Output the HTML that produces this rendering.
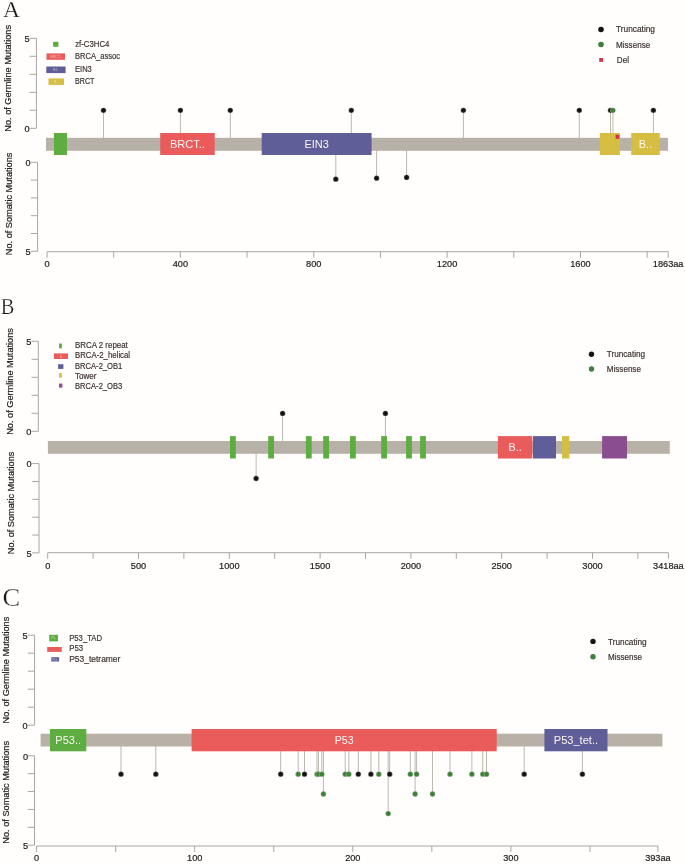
<!DOCTYPE html>
<html><head><meta charset="utf-8"><title>Lollipop plots</title>
<style>
html,body{margin:0;padding:0;background:#fffefd;}
body{width:685px;height:864px;overflow:hidden;font-family:"Liberation Sans",sans-serif;}
svg{display:block;} text{-webkit-font-smoothing:antialiased;}
</style></head><body>
<svg width="685" height="864" viewBox="0 0 685 864" style="will-change:transform">
<rect x="0" y="0" width="685" height="864" fill="#fffefd"/>
<text x="3.0" y="16.8" font-family="Liberation Serif" font-size="23.5" fill="#1a1a1a" text-anchor="start" stroke="#fffefd" stroke-width="0.25">A</text>
<text x="0" y="0" transform="translate(11.1,78.35) rotate(-90)" font-family="Liberation Sans" font-size="9.2" fill="#24201e" stroke="#24201e" stroke-width="0.2" text-anchor="middle">No. of Germline Mutations</text>
<text x="0" y="0" transform="translate(12.0,203.9) rotate(-90)" font-family="Liberation Sans" font-size="9.2" fill="#24201e" stroke="#24201e" stroke-width="0.2" text-anchor="middle">No. of Somatic Mutations</text>
<line x1="36.4" y1="38.3" x2="36.4" y2="128.3" stroke="#aaa5a0" stroke-width="1"/>
<line x1="29.6" y1="38.3" x2="36.4" y2="38.3" stroke="#aaa5a0" stroke-width="1"/>
<line x1="29.6" y1="56.3" x2="36.4" y2="56.3" stroke="#aaa5a0" stroke-width="1"/>
<line x1="29.6" y1="74.3" x2="36.4" y2="74.3" stroke="#aaa5a0" stroke-width="1"/>
<line x1="29.6" y1="92.3" x2="36.4" y2="92.3" stroke="#aaa5a0" stroke-width="1"/>
<line x1="29.6" y1="110.3" x2="36.4" y2="110.3" stroke="#aaa5a0" stroke-width="1"/>
<line x1="29.6" y1="128.3" x2="36.4" y2="128.3" stroke="#aaa5a0" stroke-width="1"/>
<text x="29.6" y="42.099999999999994" font-family="Liberation Sans" font-size="9.2" fill="#24201e" text-anchor="end" stroke="#24201e" stroke-width="0.2">5</text>
<text x="29.6" y="132.10000000000002" font-family="Liberation Sans" font-size="9.2" fill="#24201e" text-anchor="end" stroke="#24201e" stroke-width="0.2">0</text>
<line x1="37.6" y1="162.3" x2="37.6" y2="251.3" stroke="#aaa5a0" stroke-width="1"/>
<line x1="30.8" y1="162.3" x2="37.6" y2="162.3" stroke="#aaa5a0" stroke-width="1"/>
<line x1="30.8" y1="180.1" x2="37.6" y2="180.1" stroke="#aaa5a0" stroke-width="1"/>
<line x1="30.8" y1="197.9" x2="37.6" y2="197.9" stroke="#aaa5a0" stroke-width="1"/>
<line x1="30.8" y1="215.7" x2="37.6" y2="215.7" stroke="#aaa5a0" stroke-width="1"/>
<line x1="30.8" y1="233.5" x2="37.6" y2="233.5" stroke="#aaa5a0" stroke-width="1"/>
<line x1="30.8" y1="251.3" x2="37.6" y2="251.3" stroke="#aaa5a0" stroke-width="1"/>
<text x="30.7" y="166.10000000000002" font-family="Liberation Sans" font-size="9.2" fill="#24201e" text-anchor="end" stroke="#24201e" stroke-width="0.2">0</text>
<text x="30.7" y="255.10000000000002" font-family="Liberation Sans" font-size="9.2" fill="#24201e" text-anchor="end" stroke="#24201e" stroke-width="0.2">5</text>
<line x1="47.0" y1="251.7" x2="668.16" y2="251.7" stroke="#aaa5a0" stroke-width="1"/>
<line x1="47.0" y1="251.7" x2="47.0" y2="257.7" stroke="#aaa5a0" stroke-width="1"/>
<line x1="113.68" y1="251.7" x2="113.68" y2="257.7" stroke="#aaa5a0" stroke-width="1"/>
<line x1="180.37" y1="251.7" x2="180.37" y2="257.7" stroke="#aaa5a0" stroke-width="1"/>
<line x1="247.05" y1="251.7" x2="247.05" y2="257.7" stroke="#aaa5a0" stroke-width="1"/>
<line x1="313.74" y1="251.7" x2="313.74" y2="257.7" stroke="#aaa5a0" stroke-width="1"/>
<line x1="380.42" y1="251.7" x2="380.42" y2="257.7" stroke="#aaa5a0" stroke-width="1"/>
<line x1="447.1" y1="251.7" x2="447.1" y2="257.7" stroke="#aaa5a0" stroke-width="1"/>
<line x1="513.79" y1="251.7" x2="513.79" y2="257.7" stroke="#aaa5a0" stroke-width="1"/>
<line x1="580.47" y1="251.7" x2="580.47" y2="257.7" stroke="#aaa5a0" stroke-width="1"/>
<line x1="647.16" y1="251.7" x2="647.16" y2="257.7" stroke="#aaa5a0" stroke-width="1"/>
<line x1="668.16" y1="251.7" x2="668.16" y2="257.7" stroke="#aaa5a0" stroke-width="1"/>
<text x="47.00" y="267.4" font-family="Liberation Sans" font-size="9.2" fill="#24201e" text-anchor="middle" stroke="#24201e" stroke-width="0.2">0</text>
<text x="180.37" y="267.4" font-family="Liberation Sans" font-size="9.2" fill="#24201e" text-anchor="middle" stroke="#24201e" stroke-width="0.2">400</text>
<text x="313.74" y="267.4" font-family="Liberation Sans" font-size="9.2" fill="#24201e" text-anchor="middle" stroke="#24201e" stroke-width="0.2">800</text>
<text x="447.10" y="267.4" font-family="Liberation Sans" font-size="9.2" fill="#24201e" text-anchor="middle" stroke="#24201e" stroke-width="0.2">1200</text>
<text x="580.47" y="267.4" font-family="Liberation Sans" font-size="9.2" fill="#24201e" text-anchor="middle" stroke="#24201e" stroke-width="0.2">1600</text>
<text x="668.16" y="267.4" font-family="Liberation Sans" font-size="9.2" fill="#24201e" text-anchor="middle" stroke="#24201e" stroke-width="0.2">1863aa</text>
<line x1="103.5" y1="144.0" x2="103.5" y2="110.35" stroke="#bdb8b0" stroke-width="1"/>
<line x1="180.4" y1="144.0" x2="180.4" y2="110.35" stroke="#bdb8b0" stroke-width="1"/>
<line x1="230.3" y1="144.0" x2="230.3" y2="110.35" stroke="#bdb8b0" stroke-width="1"/>
<line x1="351.3" y1="144.0" x2="351.3" y2="110.35" stroke="#bdb8b0" stroke-width="1"/>
<line x1="463.4" y1="144.0" x2="463.4" y2="110.35" stroke="#bdb8b0" stroke-width="1"/>
<line x1="579.3" y1="144.0" x2="579.3" y2="110.35" stroke="#bdb8b0" stroke-width="1"/>
<line x1="610.5" y1="144.0" x2="610.5" y2="110.35" stroke="#bdb8b0" stroke-width="1"/>
<line x1="612.9" y1="144.0" x2="612.9" y2="110.35" stroke="#bdb8b0" stroke-width="1"/>
<line x1="653.4" y1="144.0" x2="653.4" y2="110.35" stroke="#bdb8b0" stroke-width="1"/>
<line x1="335.8" y1="144.0" x2="335.8" y2="179.2" stroke="#bdb8b0" stroke-width="1"/>
<line x1="376.6" y1="144.0" x2="376.6" y2="178.2" stroke="#bdb8b0" stroke-width="1"/>
<line x1="406.6" y1="144.0" x2="406.6" y2="177.4" stroke="#bdb8b0" stroke-width="1"/>
<rect x="46.0" y="137.8" width="622.00" height="13.00" fill="#b8b1a7"/>
<rect x="53.9" y="133.0" width="13.10" height="22.00" fill="#5dad40"/>
<rect x="160.2" y="133.0" width="54.50" height="22.00" fill="#ea5b5b"/>
<text x="187.45" y="147.96" font-family="Liberation Sans" font-size="11" fill="#fbf4f2" text-anchor="middle" textLength="35" lengthAdjust="spacingAndGlyphs">BRCT..</text>
<rect x="261.7" y="133.0" width="109.90" height="22.00" fill="#605e98"/>
<text x="316.65" y="147.96" font-family="Liberation Sans" font-size="11" fill="#fbf4f2" text-anchor="middle" textLength="24.3" lengthAdjust="spacingAndGlyphs">EIN3</text>
<rect x="599.8" y="133.0" width="20.10" height="22.00" fill="#d6be42"/>
<rect x="631.2" y="133.0" width="28.60" height="22.00" fill="#d6be42"/>
<text x="645.50" y="147.96" font-family="Liberation Sans" font-size="11" fill="#fbf4f2" text-anchor="middle" textLength="13.4" lengthAdjust="spacingAndGlyphs">B..</text>
<rect x="615.6" y="134.8" width="3.80" height="4.00" fill="#d9304a"/>
<circle cx="103.5" cy="110.35" r="2.65" fill="#161413" stroke="#e8e4dc" stroke-opacity="0.7" stroke-width="0.45"/>
<circle cx="180.4" cy="110.35" r="2.65" fill="#161413" stroke="#e8e4dc" stroke-opacity="0.7" stroke-width="0.45"/>
<circle cx="230.3" cy="110.35" r="2.65" fill="#161413" stroke="#e8e4dc" stroke-opacity="0.7" stroke-width="0.45"/>
<circle cx="351.3" cy="110.35" r="2.65" fill="#161413" stroke="#e8e4dc" stroke-opacity="0.7" stroke-width="0.45"/>
<circle cx="463.4" cy="110.35" r="2.65" fill="#161413" stroke="#e8e4dc" stroke-opacity="0.7" stroke-width="0.45"/>
<circle cx="579.3" cy="110.35" r="2.65" fill="#161413" stroke="#e8e4dc" stroke-opacity="0.7" stroke-width="0.45"/>
<circle cx="610.5" cy="110.35" r="2.65" fill="#161413" stroke="#e8e4dc" stroke-opacity="0.7" stroke-width="0.45"/>
<circle cx="612.9" cy="110.35" r="2.65" fill="#3f7f3a" stroke="#e8e4dc" stroke-opacity="0.7" stroke-width="0.45"/>
<circle cx="653.4" cy="110.35" r="2.65" fill="#161413" stroke="#e8e4dc" stroke-opacity="0.7" stroke-width="0.45"/>
<circle cx="335.8" cy="179.2" r="2.65" fill="#161413" stroke="#e8e4dc" stroke-opacity="0.7" stroke-width="0.45"/>
<circle cx="376.6" cy="178.2" r="2.65" fill="#161413" stroke="#e8e4dc" stroke-opacity="0.7" stroke-width="0.45"/>
<circle cx="406.6" cy="177.4" r="2.65" fill="#161413" stroke="#e8e4dc" stroke-opacity="0.7" stroke-width="0.45"/>
<rect x="53.1" y="41.8" width="5.30" height="5.00" fill="#5dad40"/>
<rect x="46.5" y="53.4" width="18.50" height="6.40" fill="#ea5b5b"/>
<rect x="46.3" y="66.5" width="19.30" height="6.60" fill="#605e98"/>
<rect x="48.5" y="78.4" width="15.50" height="6.50" fill="#d6be42"/>
<text x="56.0" y="58.0" font-family="Liberation Sans" font-size="3.6" fill="#f6dcdc" text-anchor="middle" opacity="0.75">BRCT..</text>
<text x="56.0" y="71.0" font-family="Liberation Sans" font-size="3.6" fill="#f6dcdc" text-anchor="middle" opacity="0.75">EI..</text>
<text x="56.4" y="83.0" font-family="Liberation Sans" font-size="3.6" fill="#f6dcdc" text-anchor="middle" opacity="0.75">B...</text>
<text x="75.2" y="47.3" font-family="Liberation Sans" font-size="8.6" fill="#3b322e" text-anchor="start" textLength="34.2" lengthAdjust="spacingAndGlyphs" stroke="#3b322e" stroke-width="0.18">zf-C3HC4</text>
<text x="75.0" y="59.4" font-family="Liberation Sans" font-size="8.6" fill="#3b322e" text-anchor="start" textLength="45.0" lengthAdjust="spacingAndGlyphs" stroke="#3b322e" stroke-width="0.18">BRCA_assoc</text>
<text x="75.0" y="72.0" font-family="Liberation Sans" font-size="8.6" fill="#3b322e" text-anchor="start" textLength="16.8" lengthAdjust="spacingAndGlyphs" stroke="#3b322e" stroke-width="0.18">EIN3</text>
<text x="75.0" y="84.4" font-family="Liberation Sans" font-size="8.6" fill="#3b322e" text-anchor="start" textLength="19.5" lengthAdjust="spacingAndGlyphs" stroke="#3b322e" stroke-width="0.18">BRCT</text>
<circle cx="601" cy="29.5" r="2.8" fill="#161413"/>
<circle cx="601" cy="44.5" r="2.8" fill="#3f7f3a"/>
<rect x="599.2" y="58.0" width="3.80" height="3.80" fill="#d9304a"/>
<text x="616.0" y="32.4" font-family="Liberation Sans" font-size="8.6" fill="#3b322e" text-anchor="start" textLength="39.0" lengthAdjust="spacingAndGlyphs" stroke="#3b322e" stroke-width="0.18">Truncating</text>
<text x="616.0" y="48.0" font-family="Liberation Sans" font-size="8.6" fill="#3b322e" text-anchor="start" textLength="34.2" lengthAdjust="spacingAndGlyphs" stroke="#3b322e" stroke-width="0.18">Missense</text>
<text x="616.8" y="63.2" font-family="Liberation Sans" font-size="8.6" fill="#3b322e" text-anchor="start" textLength="12.2" lengthAdjust="spacingAndGlyphs" stroke="#3b322e" stroke-width="0.18">Del</text>
<text x="0.7" y="314.3" font-family="Liberation Serif" font-size="23.5" fill="#1a1a1a" text-anchor="start" textLength="13.6" lengthAdjust="spacingAndGlyphs" stroke="#fffefd" stroke-width="0.25">B</text>
<text x="0" y="0" transform="translate(12.8,381.45) rotate(-90)" font-family="Liberation Sans" font-size="9.2" fill="#24201e" stroke="#24201e" stroke-width="0.2" text-anchor="middle">No. of Germline Mutations</text>
<text x="0" y="0" transform="translate(13.9,502.9) rotate(-90)" font-family="Liberation Sans" font-size="9.2" fill="#24201e" stroke="#24201e" stroke-width="0.2" text-anchor="middle">No. of Somatic Mutations</text>
<line x1="38.3" y1="341.3" x2="38.3" y2="431.3" stroke="#aaa5a0" stroke-width="1"/>
<line x1="31.5" y1="341.3" x2="38.3" y2="341.3" stroke="#aaa5a0" stroke-width="1"/>
<line x1="31.5" y1="359.3" x2="38.3" y2="359.3" stroke="#aaa5a0" stroke-width="1"/>
<line x1="31.5" y1="377.3" x2="38.3" y2="377.3" stroke="#aaa5a0" stroke-width="1"/>
<line x1="31.5" y1="395.3" x2="38.3" y2="395.3" stroke="#aaa5a0" stroke-width="1"/>
<line x1="31.5" y1="413.3" x2="38.3" y2="413.3" stroke="#aaa5a0" stroke-width="1"/>
<line x1="31.5" y1="431.3" x2="38.3" y2="431.3" stroke="#aaa5a0" stroke-width="1"/>
<text x="31.4" y="345.1" font-family="Liberation Sans" font-size="9.2" fill="#24201e" text-anchor="end" stroke="#24201e" stroke-width="0.2">5</text>
<text x="31.4" y="435.1" font-family="Liberation Sans" font-size="9.2" fill="#24201e" text-anchor="end" stroke="#24201e" stroke-width="0.2">0</text>
<line x1="39.0" y1="463.6" x2="39.0" y2="552.9" stroke="#aaa5a0" stroke-width="1"/>
<line x1="32.2" y1="463.6" x2="39.0" y2="463.6" stroke="#aaa5a0" stroke-width="1"/>
<line x1="32.2" y1="481.46" x2="39.0" y2="481.46" stroke="#aaa5a0" stroke-width="1"/>
<line x1="32.2" y1="499.32" x2="39.0" y2="499.32" stroke="#aaa5a0" stroke-width="1"/>
<line x1="32.2" y1="517.18" x2="39.0" y2="517.18" stroke="#aaa5a0" stroke-width="1"/>
<line x1="32.2" y1="535.04" x2="39.0" y2="535.04" stroke="#aaa5a0" stroke-width="1"/>
<line x1="32.2" y1="552.9" x2="39.0" y2="552.9" stroke="#aaa5a0" stroke-width="1"/>
<text x="31.6" y="467.40000000000003" font-family="Liberation Sans" font-size="9.2" fill="#24201e" text-anchor="end" stroke="#24201e" stroke-width="0.2">0</text>
<text x="31.6" y="556.6999999999999" font-family="Liberation Sans" font-size="9.2" fill="#24201e" text-anchor="end" stroke="#24201e" stroke-width="0.2">5</text>
<line x1="47.7" y1="552.7" x2="668.41" y2="552.7" stroke="#aaa5a0" stroke-width="1"/>
<line x1="47.7" y1="552.7" x2="47.7" y2="558.7" stroke="#aaa5a0" stroke-width="1"/>
<line x1="93.1" y1="552.7" x2="93.1" y2="558.7" stroke="#aaa5a0" stroke-width="1"/>
<line x1="138.5" y1="552.7" x2="138.5" y2="558.7" stroke="#aaa5a0" stroke-width="1"/>
<line x1="183.9" y1="552.7" x2="183.9" y2="558.7" stroke="#aaa5a0" stroke-width="1"/>
<line x1="229.3" y1="552.7" x2="229.3" y2="558.7" stroke="#aaa5a0" stroke-width="1"/>
<line x1="274.7" y1="552.7" x2="274.7" y2="558.7" stroke="#aaa5a0" stroke-width="1"/>
<line x1="320.1" y1="552.7" x2="320.1" y2="558.7" stroke="#aaa5a0" stroke-width="1"/>
<line x1="365.5" y1="552.7" x2="365.5" y2="558.7" stroke="#aaa5a0" stroke-width="1"/>
<line x1="410.9" y1="552.7" x2="410.9" y2="558.7" stroke="#aaa5a0" stroke-width="1"/>
<line x1="456.3" y1="552.7" x2="456.3" y2="558.7" stroke="#aaa5a0" stroke-width="1"/>
<line x1="501.7" y1="552.7" x2="501.7" y2="558.7" stroke="#aaa5a0" stroke-width="1"/>
<line x1="547.1" y1="552.7" x2="547.1" y2="558.7" stroke="#aaa5a0" stroke-width="1"/>
<line x1="592.5" y1="552.7" x2="592.5" y2="558.7" stroke="#aaa5a0" stroke-width="1"/>
<line x1="637.9" y1="552.7" x2="637.9" y2="558.7" stroke="#aaa5a0" stroke-width="1"/>
<line x1="668.41" y1="552.7" x2="668.41" y2="558.7" stroke="#aaa5a0" stroke-width="1"/>
<text x="47.70" y="568.5" font-family="Liberation Sans" font-size="9.2" fill="#24201e" text-anchor="middle" stroke="#24201e" stroke-width="0.2">0</text>
<text x="138.50" y="568.5" font-family="Liberation Sans" font-size="9.2" fill="#24201e" text-anchor="middle" stroke="#24201e" stroke-width="0.2">500</text>
<text x="229.30" y="568.5" font-family="Liberation Sans" font-size="9.2" fill="#24201e" text-anchor="middle" stroke="#24201e" stroke-width="0.2">1000</text>
<text x="320.10" y="568.5" font-family="Liberation Sans" font-size="9.2" fill="#24201e" text-anchor="middle" stroke="#24201e" stroke-width="0.2">1500</text>
<text x="410.90" y="568.5" font-family="Liberation Sans" font-size="9.2" fill="#24201e" text-anchor="middle" stroke="#24201e" stroke-width="0.2">2000</text>
<text x="501.70" y="568.5" font-family="Liberation Sans" font-size="9.2" fill="#24201e" text-anchor="middle" stroke="#24201e" stroke-width="0.2">2500</text>
<text x="592.50" y="568.5" font-family="Liberation Sans" font-size="9.2" fill="#24201e" text-anchor="middle" stroke="#24201e" stroke-width="0.2">3000</text>
<text x="668.41" y="568.5" font-family="Liberation Sans" font-size="9.2" fill="#24201e" text-anchor="middle" stroke="#24201e" stroke-width="0.2">3418aa</text>
<line x1="282.6" y1="447.0" x2="282.6" y2="413.4" stroke="#bdb8b0" stroke-width="1"/>
<line x1="385.4" y1="447.0" x2="385.4" y2="413.4" stroke="#bdb8b0" stroke-width="1"/>
<line x1="256.1" y1="447.0" x2="256.1" y2="478.5" stroke="#bdb8b0" stroke-width="1"/>
<rect x="47.9" y="441.0" width="621.90" height="12.80" fill="#b8b1a7"/>
<rect x="230.0" y="436.1" width="5.80" height="22.40" fill="#5dad40"/>
<rect x="268.2" y="436.1" width="5.80" height="22.40" fill="#5dad40"/>
<rect x="305.9" y="436.1" width="5.80" height="22.40" fill="#5dad40"/>
<rect x="323.2" y="436.1" width="5.80" height="22.40" fill="#5dad40"/>
<rect x="350.0" y="436.1" width="5.80" height="22.40" fill="#5dad40"/>
<rect x="381.2" y="436.1" width="5.80" height="22.40" fill="#5dad40"/>
<rect x="406.1" y="436.1" width="5.80" height="22.40" fill="#5dad40"/>
<rect x="420.1" y="436.1" width="5.80" height="22.40" fill="#5dad40"/>
<rect x="497.9" y="436.1" width="34.40" height="22.40" fill="#ea5b5b"/>
<text x="515.10" y="451.26" font-family="Liberation Sans" font-size="11" fill="#fbf4f2" text-anchor="middle" textLength="13.1" lengthAdjust="spacingAndGlyphs">B..</text>
<rect x="533.0" y="436.1" width="23.00" height="22.40" fill="#605e98"/>
<rect x="562.0" y="436.1" width="7.30" height="22.40" fill="#d6be42"/>
<rect x="602.1" y="436.1" width="24.90" height="22.40" fill="#8a4d8e"/>
<circle cx="282.6" cy="413.4" r="2.65" fill="#161413" stroke="#e8e4dc" stroke-opacity="0.7" stroke-width="0.45"/>
<circle cx="385.4" cy="413.4" r="2.65" fill="#161413" stroke="#e8e4dc" stroke-opacity="0.7" stroke-width="0.45"/>
<circle cx="256.1" cy="478.5" r="2.65" fill="#161413" stroke="#e8e4dc" stroke-opacity="0.7" stroke-width="0.45"/>
<rect x="59.1" y="343.5" width="2.80" height="4.90" fill="#5dad40"/>
<rect x="53.9" y="353.4" width="14.10" height="5.60" fill="#ea5b5b"/>
<rect x="58.1" y="364.2" width="5.30" height="4.70" fill="#605e98"/>
<rect x="59.1" y="373.1" width="2.80" height="4.60" fill="#d6be42"/>
<rect x="59.1" y="383.6" width="3.30" height="4.00" fill="#8a4d8e"/>
<text x="60.9" y="357.6" font-family="Liberation Sans" font-size="3.2" fill="#f6dcdc" text-anchor="middle" opacity="0.7">B</text>
<text x="75.0" y="347.7" font-family="Liberation Sans" font-size="8.6" fill="#3b322e" text-anchor="start" textLength="52.8" lengthAdjust="spacingAndGlyphs" stroke="#3b322e" stroke-width="0.18">BRCA 2 repeat</text>
<text x="75.0" y="358.3" font-family="Liberation Sans" font-size="8.6" fill="#3b322e" text-anchor="start" textLength="55.1" lengthAdjust="spacingAndGlyphs" stroke="#3b322e" stroke-width="0.18">BRCA-2_helical</text>
<text x="75.0" y="368.8" font-family="Liberation Sans" font-size="8.6" fill="#3b322e" text-anchor="start" textLength="47.3" lengthAdjust="spacingAndGlyphs" stroke="#3b322e" stroke-width="0.18">BRCA-2_OB1</text>
<text x="75.0" y="378.8" font-family="Liberation Sans" font-size="8.6" fill="#3b322e" text-anchor="start" textLength="21.5" lengthAdjust="spacingAndGlyphs" stroke="#3b322e" stroke-width="0.18">Tower</text>
<text x="75.0" y="388.9" font-family="Liberation Sans" font-size="8.6" fill="#3b322e" text-anchor="start" textLength="47.3" lengthAdjust="spacingAndGlyphs" stroke="#3b322e" stroke-width="0.18">BRCA-2_OB3</text>
<circle cx="591.5" cy="354.2" r="2.7" fill="#161413"/>
<circle cx="591.5" cy="369.0" r="2.7" fill="#3f7f3a"/>
<text x="606.8" y="356.9" font-family="Liberation Sans" font-size="8.6" fill="#3b322e" text-anchor="start" textLength="38.3" lengthAdjust="spacingAndGlyphs" stroke="#3b322e" stroke-width="0.18">Truncating</text>
<text x="606.8" y="372.2" font-family="Liberation Sans" font-size="8.6" fill="#3b322e" text-anchor="start" textLength="34.1" lengthAdjust="spacingAndGlyphs" stroke="#3b322e" stroke-width="0.18">Missense</text>
<text x="2.6" y="605.7" font-family="Liberation Serif" font-size="24.5" fill="#1a1a1a" text-anchor="start" textLength="17.6" lengthAdjust="spacingAndGlyphs" stroke="#fffefd" stroke-width="0.25">C</text>
<text x="0" y="0" transform="translate(9.4,670.05) rotate(-90)" font-family="Liberation Sans" font-size="9.2" fill="#24201e" stroke="#24201e" stroke-width="0.2" text-anchor="middle">No. of Germline Mutations</text>
<text x="0" y="0" transform="translate(9.4,792.35) rotate(-90)" font-family="Liberation Sans" font-size="9.2" fill="#24201e" stroke="#24201e" stroke-width="0.2" text-anchor="middle">No. of Somatic Mutations</text>
<line x1="34.6" y1="635.2" x2="34.6" y2="725.2" stroke="#aaa5a0" stroke-width="1"/>
<line x1="27.8" y1="635.2" x2="34.6" y2="635.2" stroke="#aaa5a0" stroke-width="1"/>
<line x1="27.8" y1="653.2" x2="34.6" y2="653.2" stroke="#aaa5a0" stroke-width="1"/>
<line x1="27.8" y1="671.2" x2="34.6" y2="671.2" stroke="#aaa5a0" stroke-width="1"/>
<line x1="27.8" y1="689.2" x2="34.6" y2="689.2" stroke="#aaa5a0" stroke-width="1"/>
<line x1="27.8" y1="707.2" x2="34.6" y2="707.2" stroke="#aaa5a0" stroke-width="1"/>
<line x1="27.8" y1="725.2" x2="34.6" y2="725.2" stroke="#aaa5a0" stroke-width="1"/>
<text x="27.7" y="639.0" font-family="Liberation Sans" font-size="9.2" fill="#24201e" text-anchor="end" stroke="#24201e" stroke-width="0.2">5</text>
<text x="27.7" y="729.0" font-family="Liberation Sans" font-size="9.2" fill="#24201e" text-anchor="end" stroke="#24201e" stroke-width="0.2">0</text>
<line x1="34.5" y1="755.8" x2="34.5" y2="845.2" stroke="#aaa5a0" stroke-width="1"/>
<line x1="27.7" y1="755.8" x2="34.5" y2="755.8" stroke="#aaa5a0" stroke-width="1"/>
<line x1="27.7" y1="773.68" x2="34.5" y2="773.68" stroke="#aaa5a0" stroke-width="1"/>
<line x1="27.7" y1="791.56" x2="34.5" y2="791.56" stroke="#aaa5a0" stroke-width="1"/>
<line x1="27.7" y1="809.44" x2="34.5" y2="809.44" stroke="#aaa5a0" stroke-width="1"/>
<line x1="27.7" y1="827.32" x2="34.5" y2="827.32" stroke="#aaa5a0" stroke-width="1"/>
<line x1="27.7" y1="845.2" x2="34.5" y2="845.2" stroke="#aaa5a0" stroke-width="1"/>
<text x="28.2" y="759.5999999999999" font-family="Liberation Sans" font-size="9.2" fill="#24201e" text-anchor="end" stroke="#24201e" stroke-width="0.2">0</text>
<text x="28.2" y="849.0" font-family="Liberation Sans" font-size="9.2" fill="#24201e" text-anchor="end" stroke="#24201e" stroke-width="0.2">5</text>
<line x1="36.6" y1="846.0" x2="657.93" y2="846.0" stroke="#aaa5a0" stroke-width="1"/>
<line x1="36.6" y1="846.0" x2="36.6" y2="852.0" stroke="#aaa5a0" stroke-width="1"/>
<line x1="115.65" y1="846.0" x2="115.65" y2="852.0" stroke="#aaa5a0" stroke-width="1"/>
<line x1="194.7" y1="846.0" x2="194.7" y2="852.0" stroke="#aaa5a0" stroke-width="1"/>
<line x1="273.75" y1="846.0" x2="273.75" y2="852.0" stroke="#aaa5a0" stroke-width="1"/>
<line x1="352.8" y1="846.0" x2="352.8" y2="852.0" stroke="#aaa5a0" stroke-width="1"/>
<line x1="431.85" y1="846.0" x2="431.85" y2="852.0" stroke="#aaa5a0" stroke-width="1"/>
<line x1="510.9" y1="846.0" x2="510.9" y2="852.0" stroke="#aaa5a0" stroke-width="1"/>
<line x1="589.95" y1="846.0" x2="589.95" y2="852.0" stroke="#aaa5a0" stroke-width="1"/>
<line x1="657.93" y1="846.0" x2="657.93" y2="852.0" stroke="#aaa5a0" stroke-width="1"/>
<text x="36.60" y="861.3" font-family="Liberation Sans" font-size="9.2" fill="#24201e" text-anchor="middle" stroke="#24201e" stroke-width="0.2">0</text>
<text x="194.70" y="861.3" font-family="Liberation Sans" font-size="9.2" fill="#24201e" text-anchor="middle" stroke="#24201e" stroke-width="0.2">100</text>
<text x="352.80" y="861.3" font-family="Liberation Sans" font-size="9.2" fill="#24201e" text-anchor="middle" stroke="#24201e" stroke-width="0.2">200</text>
<text x="510.90" y="861.3" font-family="Liberation Sans" font-size="9.2" fill="#24201e" text-anchor="middle" stroke="#24201e" stroke-width="0.2">300</text>
<text x="657.93" y="861.3" font-family="Liberation Sans" font-size="9.2" fill="#24201e" text-anchor="middle" stroke="#24201e" stroke-width="0.2">393aa</text>
<line x1="121.0" y1="740.0" x2="121.0" y2="774.2" stroke="#bdb8b0" stroke-width="1"/>
<line x1="155.8" y1="740.0" x2="155.8" y2="774.2" stroke="#bdb8b0" stroke-width="1"/>
<line x1="280.7" y1="740.0" x2="280.7" y2="774.2" stroke="#bdb8b0" stroke-width="1"/>
<line x1="304.5" y1="740.0" x2="304.5" y2="774.2" stroke="#bdb8b0" stroke-width="1"/>
<line x1="358.3" y1="740.0" x2="358.3" y2="774.2" stroke="#bdb8b0" stroke-width="1"/>
<line x1="370.9" y1="740.0" x2="370.9" y2="774.2" stroke="#bdb8b0" stroke-width="1"/>
<line x1="389.7" y1="740.0" x2="389.7" y2="774.2" stroke="#bdb8b0" stroke-width="1"/>
<line x1="524.2" y1="740.0" x2="524.2" y2="774.2" stroke="#bdb8b0" stroke-width="1"/>
<line x1="582.4" y1="740.0" x2="582.4" y2="774.2" stroke="#bdb8b0" stroke-width="1"/>
<line x1="388.2" y1="740.0" x2="388.2" y2="813.6" stroke="#bdb8b0" stroke-width="1"/>
<line x1="323.4" y1="740.0" x2="323.4" y2="794.0" stroke="#bdb8b0" stroke-width="1"/>
<line x1="415.1" y1="740.0" x2="415.1" y2="794.0" stroke="#bdb8b0" stroke-width="1"/>
<line x1="432.5" y1="740.0" x2="432.5" y2="794.0" stroke="#bdb8b0" stroke-width="1"/>
<line x1="298.2" y1="740.0" x2="298.2" y2="774.2" stroke="#bdb8b0" stroke-width="1"/>
<line x1="317.0" y1="740.0" x2="317.0" y2="774.2" stroke="#bdb8b0" stroke-width="1"/>
<line x1="318.4" y1="740.0" x2="318.4" y2="774.2" stroke="#bdb8b0" stroke-width="1"/>
<line x1="321.8" y1="740.0" x2="321.8" y2="774.2" stroke="#bdb8b0" stroke-width="1"/>
<line x1="345.2" y1="740.0" x2="345.2" y2="774.2" stroke="#bdb8b0" stroke-width="1"/>
<line x1="348.8" y1="740.0" x2="348.8" y2="774.2" stroke="#bdb8b0" stroke-width="1"/>
<line x1="378.8" y1="740.0" x2="378.8" y2="774.2" stroke="#bdb8b0" stroke-width="1"/>
<line x1="410.3" y1="740.0" x2="410.3" y2="774.2" stroke="#bdb8b0" stroke-width="1"/>
<line x1="416.6" y1="740.0" x2="416.6" y2="774.2" stroke="#bdb8b0" stroke-width="1"/>
<line x1="450.0" y1="740.0" x2="450.0" y2="774.2" stroke="#bdb8b0" stroke-width="1"/>
<line x1="471.9" y1="740.0" x2="471.9" y2="774.2" stroke="#bdb8b0" stroke-width="1"/>
<line x1="482.8" y1="740.0" x2="482.8" y2="774.2" stroke="#bdb8b0" stroke-width="1"/>
<line x1="486.5" y1="740.0" x2="486.5" y2="774.2" stroke="#bdb8b0" stroke-width="1"/>
<rect x="40.6" y="733.7" width="621.80" height="12.80" fill="#b8b1a7"/>
<rect x="50.0" y="729.0" width="36.30" height="22.30" fill="#5dad40"/>
<text x="68.15" y="744.11" font-family="Liberation Sans" font-size="11" fill="#fbf4f2" text-anchor="middle" textLength="25.7" lengthAdjust="spacingAndGlyphs">P53..</text>
<rect x="191.6" y="729.0" width="305.10" height="22.30" fill="#ea5b5b"/>
<text x="344.15" y="744.11" font-family="Liberation Sans" font-size="11" fill="#fbf4f2" text-anchor="middle" textLength="18.9" lengthAdjust="spacingAndGlyphs">P53</text>
<rect x="544.4" y="729.0" width="63.10" height="22.30" fill="#605e98"/>
<text x="575.95" y="744.11" font-family="Liberation Sans" font-size="11" fill="#fbf4f2" text-anchor="middle" textLength="44.2" lengthAdjust="spacingAndGlyphs">P53_tet..</text>
<circle cx="121.0" cy="774.2" r="2.65" fill="#161413" stroke="#e8e4dc" stroke-opacity="0.7" stroke-width="0.45"/>
<circle cx="155.8" cy="774.2" r="2.65" fill="#161413" stroke="#e8e4dc" stroke-opacity="0.7" stroke-width="0.45"/>
<circle cx="280.7" cy="774.2" r="2.65" fill="#161413" stroke="#e8e4dc" stroke-opacity="0.7" stroke-width="0.45"/>
<circle cx="304.5" cy="774.2" r="2.65" fill="#161413" stroke="#e8e4dc" stroke-opacity="0.7" stroke-width="0.45"/>
<circle cx="358.3" cy="774.2" r="2.65" fill="#161413" stroke="#e8e4dc" stroke-opacity="0.7" stroke-width="0.45"/>
<circle cx="370.9" cy="774.2" r="2.65" fill="#161413" stroke="#e8e4dc" stroke-opacity="0.7" stroke-width="0.45"/>
<circle cx="389.7" cy="774.2" r="2.65" fill="#161413" stroke="#e8e4dc" stroke-opacity="0.7" stroke-width="0.45"/>
<circle cx="524.2" cy="774.2" r="2.65" fill="#161413" stroke="#e8e4dc" stroke-opacity="0.7" stroke-width="0.45"/>
<circle cx="582.4" cy="774.2" r="2.65" fill="#161413" stroke="#e8e4dc" stroke-opacity="0.7" stroke-width="0.45"/>
<circle cx="388.2" cy="813.6" r="2.65" fill="#3f7f3a" stroke="#e8e4dc" stroke-opacity="0.7" stroke-width="0.45"/>
<circle cx="323.4" cy="794.0" r="2.65" fill="#3f7f3a" stroke="#e8e4dc" stroke-opacity="0.7" stroke-width="0.45"/>
<circle cx="415.1" cy="794.0" r="2.65" fill="#3f7f3a" stroke="#e8e4dc" stroke-opacity="0.7" stroke-width="0.45"/>
<circle cx="432.5" cy="794.0" r="2.65" fill="#3f7f3a" stroke="#e8e4dc" stroke-opacity="0.7" stroke-width="0.45"/>
<circle cx="298.2" cy="774.2" r="2.65" fill="#3f7f3a" stroke="#e8e4dc" stroke-opacity="0.7" stroke-width="0.45"/>
<circle cx="317.0" cy="774.2" r="2.65" fill="#3f7f3a" stroke="#e8e4dc" stroke-opacity="0.7" stroke-width="0.45"/>
<circle cx="318.4" cy="774.2" r="2.65" fill="#3f7f3a" stroke="#e8e4dc" stroke-opacity="0.7" stroke-width="0.45"/>
<circle cx="321.8" cy="774.2" r="2.65" fill="#3f7f3a" stroke="#e8e4dc" stroke-opacity="0.7" stroke-width="0.45"/>
<circle cx="345.2" cy="774.2" r="2.65" fill="#3f7f3a" stroke="#e8e4dc" stroke-opacity="0.7" stroke-width="0.45"/>
<circle cx="348.8" cy="774.2" r="2.65" fill="#3f7f3a" stroke="#e8e4dc" stroke-opacity="0.7" stroke-width="0.45"/>
<circle cx="378.8" cy="774.2" r="2.65" fill="#3f7f3a" stroke="#e8e4dc" stroke-opacity="0.7" stroke-width="0.45"/>
<circle cx="410.3" cy="774.2" r="2.65" fill="#3f7f3a" stroke="#e8e4dc" stroke-opacity="0.7" stroke-width="0.45"/>
<circle cx="416.6" cy="774.2" r="2.65" fill="#3f7f3a" stroke="#e8e4dc" stroke-opacity="0.7" stroke-width="0.45"/>
<circle cx="450.0" cy="774.2" r="2.65" fill="#3f7f3a" stroke="#e8e4dc" stroke-opacity="0.7" stroke-width="0.45"/>
<circle cx="471.9" cy="774.2" r="2.65" fill="#3f7f3a" stroke="#e8e4dc" stroke-opacity="0.7" stroke-width="0.45"/>
<circle cx="482.8" cy="774.2" r="2.65" fill="#3f7f3a" stroke="#e8e4dc" stroke-opacity="0.7" stroke-width="0.45"/>
<circle cx="486.5" cy="774.2" r="2.65" fill="#3f7f3a" stroke="#e8e4dc" stroke-opacity="0.7" stroke-width="0.45"/>
<rect x="49.2" y="634.8" width="8.80" height="6.60" fill="#5dad40"/>
<rect x="47.2" y="647.0" width="14.50" height="4.90" fill="#ea5b5b"/>
<rect x="51.2" y="657.2" width="7.90" height="4.30" fill="#605e98"/>
<text x="53.6" y="639.3" font-family="Liberation Sans" font-size="3.6" fill="#e8f4e0" text-anchor="middle" opacity="0.6">P5.</text>
<text x="54.4" y="650.8" font-family="Liberation Sans" font-size="4" fill="#f6dcdc" text-anchor="middle" opacity="0.7">·</text>
<text x="55.2" y="660.5" font-family="Liberation Sans" font-size="3.2" fill="#e8e8f4" text-anchor="middle" opacity="0.6">P53..</text>
<text x="69.2" y="640.7" font-family="Liberation Sans" font-size="8.6" fill="#3b322e" text-anchor="start" textLength="32.8" lengthAdjust="spacingAndGlyphs" stroke="#3b322e" stroke-width="0.18">P53_TAD</text>
<text x="69.2" y="651.3" font-family="Liberation Sans" font-size="8.6" fill="#3b322e" text-anchor="start" textLength="13.9" lengthAdjust="spacingAndGlyphs" stroke="#3b322e" stroke-width="0.18">P53</text>
<text x="69.2" y="661.9" font-family="Liberation Sans" font-size="8.6" fill="#3b322e" text-anchor="start" textLength="51.2" lengthAdjust="spacingAndGlyphs" stroke="#3b322e" stroke-width="0.18">P53_tetramer</text>
<circle cx="593" cy="641.4" r="2.7" fill="#161413"/>
<circle cx="593" cy="656.7" r="2.7" fill="#3f7f3a"/>
<text x="608.0" y="644.6" font-family="Liberation Sans" font-size="8.6" fill="#3b322e" text-anchor="start" textLength="38.7" lengthAdjust="spacingAndGlyphs" stroke="#3b322e" stroke-width="0.18">Truncating</text>
<text x="608.0" y="660.0" font-family="Liberation Sans" font-size="8.6" fill="#3b322e" text-anchor="start" textLength="34.1" lengthAdjust="spacingAndGlyphs" stroke="#3b322e" stroke-width="0.18">Missense</text>
</svg>
</body></html>
